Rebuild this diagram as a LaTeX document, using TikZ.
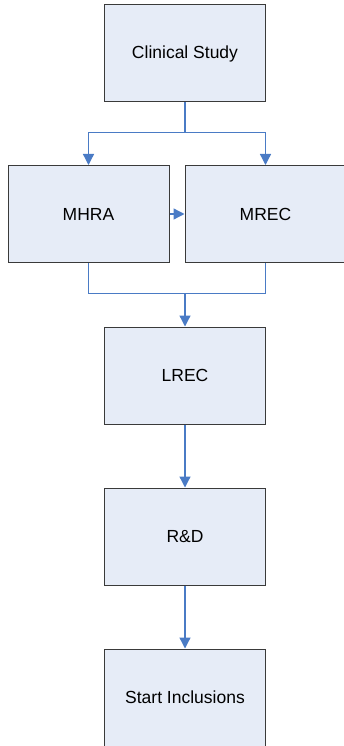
\documentclass[tikz,border=0pt]{standalone}
\usepackage{fontspec}
\setmainfont{Liberation Sans}
\usetikzlibrary{arrows.meta}
\definecolor{boxfill}{HTML}{E6ECF7}
\definecolor{boxline}{HTML}{3A3A3A}
\definecolor{arrowblue}{HTML}{4A7BC5}
\begin{document}
\begin{tikzpicture}[x=1pt,y=-1pt,
  stepbox/.style={draw=boxline,line width=1pt,fill=boxfill,minimum width=161pt,minimum height=97pt,inner sep=0pt,font=\fontsize{17.5}{20}\selectfont},
  conn/.style={draw=arrowblue,line width=1.3pt},
  arr/.style={conn,-{Triangle[width=11pt,length=11pt]}}]
\useasboundingbox (0,0) rectangle (343,746);
\node[stepbox] (cs) at (185,53.5) {Clinical Study};
\node[stepbox] (mhra) at (88.5,214) {MHRA};
\node[stepbox] (mrec) at (265.5,214) {MREC};
\node[stepbox] (lrec) at (185,375.5) {LREC};
\node[stepbox] (rd) at (185,536.5) {R\&D};
\node[stepbox] (si) at (185,697.5) {Start Inclusions};
\coordinate (split) at (185,132.5);
\coordinate (join) at (185,293.5);
\draw[conn] (cs.south) -- (split);
\draw[arr] (split) -| (mhra.north);
\draw[arr] (split) -| (mrec.north);
\draw[arr] (mhra.east) -- (mrec.west);
\draw[conn] (mhra.south) |- (join);
\draw[conn] (mrec.south) |- (join);
\draw[arr] (join) -- (lrec.north);
\draw[arr] (lrec.south) -- (rd.north);
\draw[arr] (rd.south) -- (si.north);
\end{tikzpicture}
\end{document}
